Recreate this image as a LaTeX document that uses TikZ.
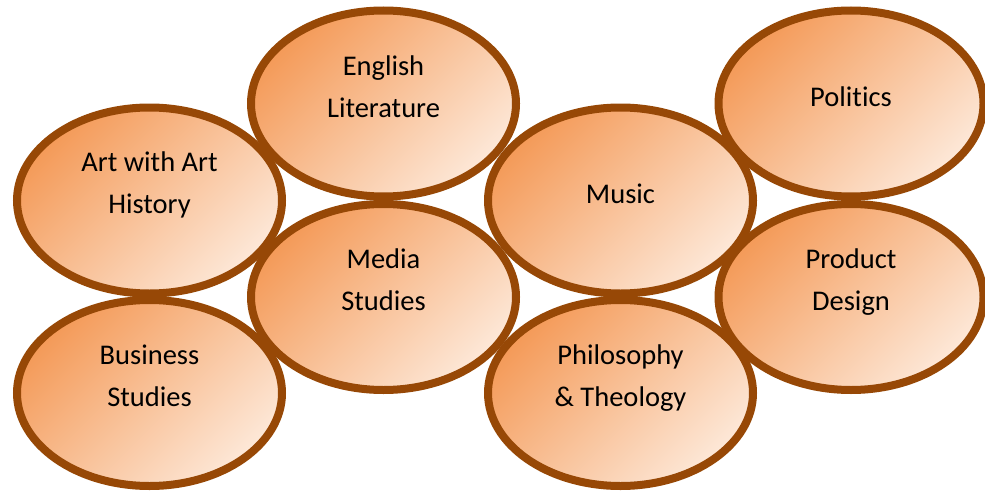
\documentclass[tikz,border=0pt]{standalone}
\usepackage{fontspec}
\setmainfont[Ligatures=NoCommon]{Carlito}
\usetikzlibrary{shapes.geometric}
\definecolor{rim}{HTML}{974806}
\definecolor{orangeA}{HTML}{F49A58}
\definecolor{peachB}{HTML}{FDE8D8}
\tikzset{
  bub/.style={ellipse, draw=rim, line width=8pt, minimum width=265pt, minimum height=186pt,
    inner sep=0pt, top color=orangeA, bottom color=peachB, shading angle=45},
  lbl/.style={anchor=base, inner sep=0pt, font=\fontsize{28.5}{42}\selectfont, text=black}
}
\begin{document}
\begin{tikzpicture}[x=1pt,y=-1pt]
\useasboundingbox (0,0) rectangle (985,495);
% ellipses
\node[bub] (art)  at (149.5,200.5) {};
\node[bub] (bus)  at (149.5,393)   {};
\node[bub] (eng)  at (383.5,103.5) {};
\node[bub] (med)  at (383.5,297)   {};
\node[bub] (mus)  at (620.5,200.5) {};
\node[bub] (phi)  at (620.5,393)   {};
\node[bub] (pol)  at (851,103.5)   {};
\node[bub] (pro)  at (851,297)     {};
% labels
\node[lbl] (art1) at ([yshift=29pt]art.center) {Art with Art};
\node[lbl] (art2) at ([yshift=-13pt]art.center) {History};
\node[lbl] (bus1) at ([yshift=29pt]bus.center) {Business};
\node[lbl] (bus2) at ([yshift=-13pt]bus.center) {Studies};
\node[lbl] (eng1) at ([yshift=28pt]eng.center) {English};
\node[lbl] (eng2) at ([yshift=-14pt]eng.center) {Literature};
\node[lbl] (med1) at ([yshift=29pt]med.center) {Media};
\node[lbl] (med2) at ([yshift=-13pt]med.center) {Studies};
\node[lbl] (mus1) at ([yshift=-2.5pt]mus.center) {Music};
\node[lbl] (phi1) at ([yshift=29pt]phi.center) {Philosophy};
\node[lbl] (phi2) at ([yshift=-13pt]phi.center) {\& Theology};
\node[lbl] (pol1) at ([yshift=-3pt]pol.center) {Politics};
\node[lbl] (pro1) at ([yshift=29pt]pro.center) {Product};
\node[lbl] (pro2) at ([yshift=-13pt]pro.center) {Design};
\end{tikzpicture}
\end{document}
